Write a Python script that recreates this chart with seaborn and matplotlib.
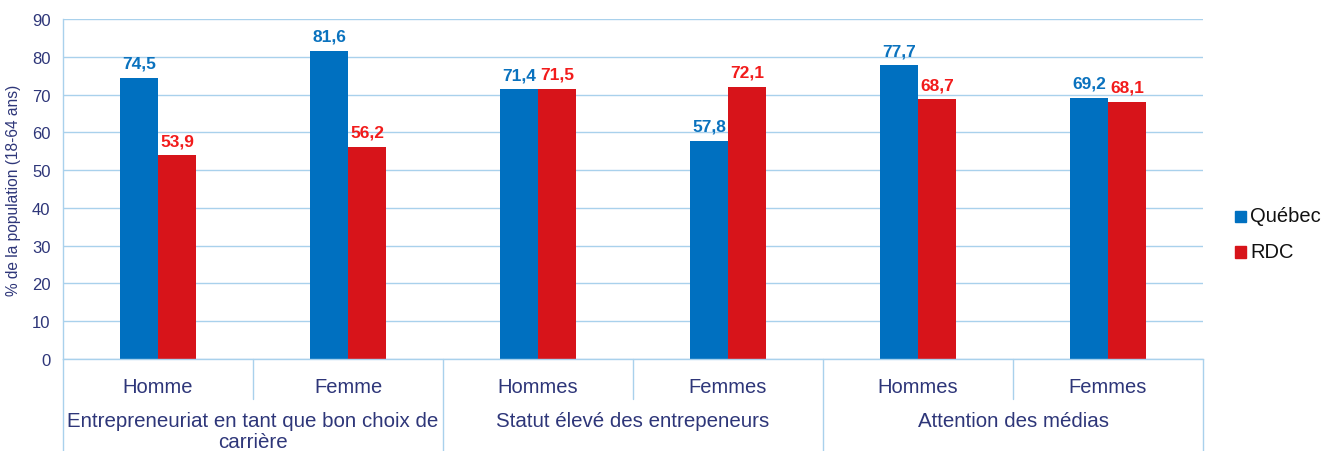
import numpy as np
import pandas as pd
import matplotlib
matplotlib.use("Agg")
import matplotlib.pyplot as plt
import seaborn as sns
from matplotlib.transforms import blended_transform_factory

# Données
sous_categories = ["Homme", "Femme", "Hommes", "Femmes", "Hommes", "Femmes"]
groupes = ["Entrepreneuriat en tant que bon choix de\ncarrière",
           "Statut élevé des entrepeneurs",
           "Attention des médias"]
series = ["Québec", "RDC"]
quebec = [74.5, 81.6, 71.4, 57.8, 77.7, 69.2]
rdc = [53.9, 56.2, 71.5, 72.1, 68.7, 68.1]

couleurs_barres = {"Québec": "#0070C0", "RDC": "#D7141A"}
couleurs_etiq = {"Québec": "#0A72BE", "RDC": "#F21B1B"}
navy = "#2E3679"
grille = "#A9D1EC"

sns.set_theme(style="white")
plt.rcParams['font.family'] = ['Liberation Sans', 'DejaVu Sans']

df = pd.DataFrame({
    "pos": list(range(6)) * 2,
    "serie": ["Québec"] * 6 + ["RDC"] * 6,
    "valeur": quebec + rdc,
})

fig = plt.figure(figsize=(13.33, 4.52), dpi=100)
ax = fig.add_axes([0.0473, 0.2035, 0.8552, 0.7523])

sns.barplot(data=df, x="pos", y="valeur", hue="serie", hue_order=series,
            palette=couleurs_barres, width=0.4, saturation=1, ax=ax,
            edgecolor="none", legend=False)

ax.set_ylim(0, 90)
ax.set_xlim(-0.5, 5.5)
ax.set_yticks(np.arange(0, 91, 10))
ax.yaxis.grid(True, color=grille, linewidth=1.0)
ax.set_axisbelow(True)
for s in ["top", "right"]:
    ax.spines[s].set_visible(False)
for s in ["left", "bottom"]:
    ax.spines[s].set_color(grille)
    ax.spines[s].set_linewidth(1.0)
ax.tick_params(axis="y", length=5, color=grille, labelsize=12, labelcolor=navy, pad=4)
ax.set_ylabel("% de la population (18-64 ans)", fontsize=11.2, color=navy, labelpad=8)

ax.set_xticks(range(6))
ax.set_xticklabels(sous_categories, fontsize=14.5, color=navy)
ax.tick_params(axis="x", length=0, pad=13)
ax.set_xlabel("")

# étiquettes de valeurs
for cont, nom in zip(ax.containers, series):
    ax.bar_label(cont, labels=[f"{v:.1f}".replace(".", ",") for v in cont.datavalues],
                 padding=5, fontsize=12.5, fontweight="bold", color=couleurs_etiq[nom])

# séparateurs et libellés de groupes
tr = blended_transform_factory(ax.transData, ax.transAxes)
for x in [0.5, 2.5, 4.5]:
    ax.plot([x, x], [0, -0.117], transform=tr, color=grille, lw=1, clip_on=False)
for x in [-0.5, 1.5, 3.5, 5.5]:
    ax.plot([x, x], [0, -0.28], transform=tr, color=grille, lw=1, clip_on=False)
for i, g in enumerate(groupes):
    ax.text(2 * i + 0.5, -0.154, g, transform=tr, ha="center", va="top",
            fontsize=14.8, color=navy, linespacing=1.12)

# légende
for j, nom in enumerate(series):
    yy = 0.520 - j * 0.078
    fig.patches.append(plt.Rectangle((0.9265, yy - 0.014), 0.0085, 0.025,
                                     transform=fig.transFigure,
                                     color=couleurs_barres[nom]))
    fig.text(0.938, yy, nom, fontsize=14.5, color="#111111", va="center", ha="left")

fig.savefig("out.png", dpi=100)
